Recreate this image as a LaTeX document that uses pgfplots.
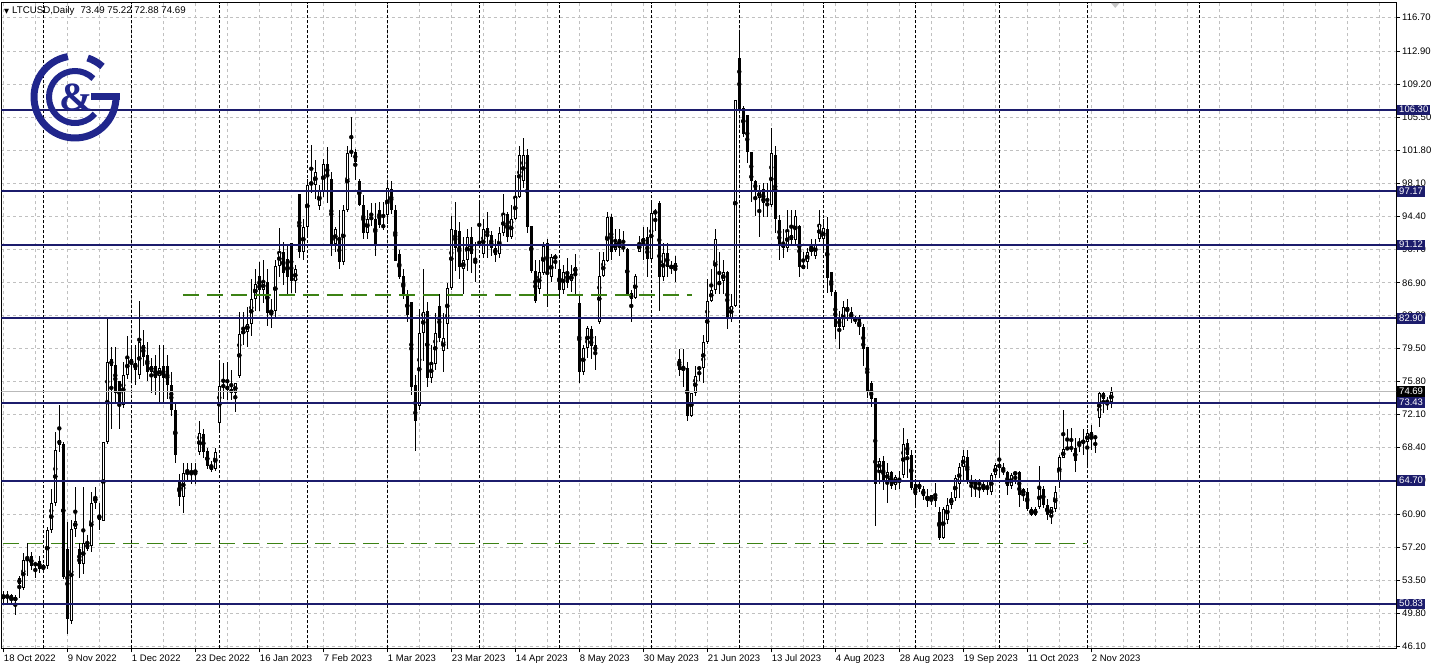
\documentclass[border=0pt]{standalone}
\usepackage{pgfplots}
\pgfplotsset{compat=1.18}
\usepackage{pgfplotstable}
\usepackage{fontspec}
\setmainfont{Liberation Sans}
\newfontfamily\symfont{DejaVu Sans}
\newfontfamily\logofont{Liberation Serif}
\definecolor{navyl}{RGB}{28,28,108}
\definecolor{gridg}{RGB}{192,192,192}
\definecolor{lvlgreen}{RGB}{60,130,20}
\definecolor{logoblue}{RGB}{32,38,140}
\definecolor{priceg}{RGB}{185,185,185}

\pgfplotstableread{
i O H L C
0 51.8 52.3 50.9 51.6
1 51.6 52.3 51.0 51.8
2 51.8 52.0 50.8 51.3
3 51.2 51.9 49.6 51.6
4 53.7 54.0 51.5 53.1
5 52.6 56.6 52.4 55.8
6 55.9 57.7 54.0 56.1
7 56.2 56.7 54.7 55.1
8 55.2 55.6 53.7 55.4
9 55.7 56.2 54.3 54.8
10 54.8 55.3 54.5 55.2
11 55.1 59.5 54.8 59.1
12 59.1 63.8 58.8 62.2
13 62.2 70.2 61.8 68.1
14 69.3 73.2 67.9 68.7
15 68.8 69.0 53.6 53.9
16 57.0 60.0 47.5 49.2
17 48.9 60.3 48.6 59.3
18 59.3 64.0 58.4 60.2
19 57.0 57.7 53.8 55.3
20 55.3 64.0 54.2 57.7
21 57.7 58.6 56.8 57.0
22 57.3 63.4 56.7 62.2
23 62.2 64.0 61.5 62.9
24 60.8 62.2 59.1 60.3
25 60.2 69.0 60.1 69.0
26 69.0 82.8 68.8 78.0
27 78.3 79.7 70.5 77.6
28 77.7 79.7 73.3 74.5
29 75.9 75.9 70.5 73.2
30 73.2 78.0 72.8 76.6
31 76.6 80.9 76.1 78.5
32 78.3 79.9 75.9 77.8
33 77.9 79.9 75.4 77.1
34 76.6 84.9 76.1 80.2
35 79.9 81.6 77.6 78.6
36 78.8 80.2 75.9 76.9
37 76.9 78.5 74.5 77.6
38 77.6 78.8 74.3 76.2
39 76.4 79.9 73.4 77.3
40 77.6 79.9 73.4 76.2
41 77.6 78.8 73.8 75.4
42 75.4 76.9 71.9 72.6
43 72.6 73.3 66.7 67.6
44 64.6 65.4 61.8 62.9
45 62.9 66.7 61.0 65.5
46 65.5 66.7 64.8 65.6
47 65.6 66.7 64.3 65.7
48 65.5 66.7 64.3 65.9
49 67.9 71.4 67.6 70.0
50 69.9 70.5 67.2 67.9
51 68.0 68.3 66.0 66.3
52 66.4 66.9 65.7 65.9
53 66.0 68.4 65.8 67.9
54 71.2 78.0 70.0 75.3
55 75.2 77.9 73.9 75.4
56 75.3 78.0 73.7 74.9
57 75.0 77.1 73.7 74.5
58 74.5 75.7 72.4 75.6
59 76.4 83.6 76.2 81.1
60 81.1 83.6 79.9 81.6
61 81.4 84.2 79.7 82.3
62 82.3 87.3 80.9 85.1
63 85.1 88.4 83.7 86.8
64 87.7 89.2 83.7 86.1
65 86.1 89.4 84.6 87.0
66 87.0 88.4 82.0 83.5
67 83.5 85.1 81.8 83.8
68 83.7 89.4 83.0 88.8
69 88.8 93.0 87.5 90.4
70 90.4 91.5 86.6 88.0
71 89.6 91.3 85.6 87.5
72 91.4 91.4 85.7 87.1
73 87.1 88.9 85.7 88.4
74 96.9 96.9 89.7 90.4
75 90.4 94.1 89.4 93.2
76 93.2 98.6 92.3 97.9
77 97.9 102.4 97.0 98.2
78 97.9 100.7 96.3 99.3
79 95.5 97.9 95.1 97.2
80 97.2 100.8 96.5 100.2
81 100.2 102.1 95.8 98.9
82 98.6 99.3 89.9 91.3
83 91.3 93.2 90.4 92.9
84 91.9 95.1 88.5 89.2
85 89.2 95.6 88.9 95.1
86 95.1 102.2 94.9 101.5
87 101.5 105.5 101.0 101.7
88 101.6 101.9 98.4 100.5
89 98.3 98.6 95.5 95.6
90 95.6 96.8 91.8 92.5
91 92.5 95.1 91.8 94.1
92 94.3 95.8 93.3 94.0
93 94.1 95.8 89.9 91.3
94 95.1 96.0 93.0 93.4
95 93.2 96.0 92.8 93.3
96 94.5 98.2 93.5 97.5
97 97.4 98.3 94.6 95.1
98 95.1 95.6 89.4 89.4
99 90.1 90.6 87.3 87.5
100 87.7 88.4 85.1 85.4
101 85.4 86.1 82.5 83.3
102 84.7 84.7 74.3 75.2
103 75.4 76.6 68.0 71.4
104 73.1 83.9 72.6 81.3
105 81.3 88.5 78.1 83.6
106 83.7 84.7 75.2 76.2
107 76.2 79.9 75.7 77.8
108 77.8 83.5 77.1 81.3
109 84.3 85.6 80.2 80.7
110 79.2 83.5 76.9 80.7
111 82.3 86.9 79.5 86.3
112 86.3 94.4 86.1 92.9
113 92.8 96.0 88.2 90.8
114 92.7 93.7 87.3 88.7
115 88.5 92.0 85.6 89.4
116 89.4 92.9 88.2 92.0
117 92.0 93.2 88.0 90.1
118 89.6 91.5 87.0 89.4
119 91.3 96.0 90.8 91.5
120 90.1 94.1 89.7 92.9
121 93.0 94.8 89.7 92.2
122 92.3 92.7 89.9 90.8
123 90.8 91.8 89.2 90.0
124 90.1 93.2 89.7 92.5
125 92.5 96.9 92.2 94.6
126 94.6 94.8 91.5 92.0
127 92.0 95.6 91.8 94.1
128 94.1 99.0 93.9 96.5
129 96.5 102.2 96.4 101.2
130 98.3 103.2 97.5 101.2
131 101.2 101.9 92.5 93.2
132 93.3 93.3 88.0 88.2
133 88.2 89.4 84.6 84.8
134 86.2 89.4 85.6 88.1
135 88.0 91.5 87.8 91.0
136 91.4 91.8 84.2 88.0
137 87.5 90.1 87.0 89.8
138 89.6 90.1 88.4 89.9
139 88.5 89.2 85.1 86.1
140 86.1 88.9 85.6 88.1
141 88.1 89.7 86.3 86.9
142 87.1 88.9 85.9 87.9
143 88.0 90.1 85.6 88.7
144 84.6 85.4 75.7 76.9
145 76.9 79.9 76.6 79.6
146 79.6 82.1 78.5 81.8
147 81.7 82.1 78.3 79.8
148 79.9 80.9 77.1 79.2
149 82.5 90.4 82.3 87.7
150 87.7 90.4 87.5 89.4
151 89.4 94.8 89.2 94.3
152 94.3 94.6 89.4 90.4
153 90.6 92.9 90.3 91.4
154 91.8 92.9 89.9 90.8
155 90.8 92.7 90.3 90.9
156 90.7 90.8 85.6 85.6
157 85.7 86.1 82.5 85.1
158 85.2 87.9 85.1 87.7
159 90.4 92.2 90.3 91.4
160 91.4 93.2 89.4 91.9
161 92.0 93.2 87.5 89.6
162 89.6 96.0 89.4 94.7
163 94.6 95.2 92.7 95.0
164 95.9 96.1 83.7 87.5
165 87.5 91.4 87.1 90.2
166 90.2 91.4 87.5 88.7
167 88.9 89.4 87.9 88.5
168 88.4 89.9 87.0 89.1
169 78.3 79.5 76.4 77.1
170 77.1 79.5 75.2 77.4
171 77.3 78.0 71.4 71.9
172 71.9 74.5 71.8 74.5
173 74.5 77.6 74.2 76.4
174 77.2 77.6 75.9 77.4
175 77.3 81.0 75.6 80.2
176 80.2 87.3 80.0 84.9
177 84.9 88.5 84.7 86.1
178 86.1 92.9 85.6 91.8
179 87.1 90.4 85.6 86.6
180 87.1 89.4 85.6 88.1
181 88.1 88.2 81.7 83.0
182 83.0 85.6 82.5 84.3
183 84.3 107.4 84.2 107.4
184 112.1 114.9 106.3 106.3
185 106.5 106.8 103.3 103.6
186 105.7 105.7 100.3 101.6
187 101.6 101.6 96.0 98.3
188 98.3 98.4 94.4 97.2
189 96.4 97.9 92.0 97.2
190 97.4 98.1 94.3 95.8
191 95.6 98.1 94.3 95.8
192 95.6 104.3 95.4 101.5
193 101.3 102.2 92.5 94.1
194 93.9 94.5 89.4 91.3
195 91.3 92.9 89.7 90.8
196 90.8 95.1 90.3 92.7
197 92.3 95.1 91.3 91.7
198 91.7 95.1 91.3 94.4
199 93.3 93.4 87.5 88.7
200 88.9 90.4 88.4 88.5
201 89.2 90.8 88.4 90.4
202 90.4 91.8 89.9 90.8
203 89.9 91.8 89.6 91.3
204 91.8 95.1 91.5 93.5
205 91.8 94.1 90.3 93.0
206 92.9 94.3 85.8 87.4
207 88.1 88.1 85.4 85.9
208 85.9 86.1 80.6 81.9
209 83.0 83.7 79.5 81.9
210 81.9 84.9 81.6 84.2
211 84.2 85.1 82.6 83.7
212 83.6 84.2 82.4 82.8
213 82.9 83.2 82.3 82.6
214 82.8 83.3 81.0 81.9
215 81.9 82.3 77.6 79.5
216 79.7 79.7 74.0 74.7
217 75.6 75.9 72.9 73.8
218 74.0 74.0 59.6 64.3
219 65.8 67.2 64.3 66.9
220 66.9 67.5 63.6 64.6
221 64.6 66.7 62.2 65.7
222 65.7 65.8 63.8 64.1
223 64.2 65.3 63.6 65.1
224 64.6 65.8 63.8 64.7
225 65.3 70.6 65.0 68.8
226 68.9 69.4 65.0 67.6
227 67.6 68.1 63.6 63.9
228 64.3 64.9 61.9 63.1
229 64.3 64.8 63.4 63.8
230 63.8 64.1 62.5 63.0
231 63.0 63.8 61.7 62.4
232 62.4 63.1 62.0 63.1
233 63.1 64.4 61.7 62.4
234 61.2 61.7 58.0 58.2
235 58.2 61.7 58.1 61.5
236 60.3 62.7 59.8 62.0
237 62.0 63.4 61.5 62.7
238 62.7 65.3 62.4 65.0
239 64.3 66.7 62.7 66.2
240 66.2 68.1 64.8 67.4
241 67.3 68.1 64.3 64.6
242 64.3 65.3 62.9 64.8
243 64.7 64.9 62.9 64.1
244 64.3 64.9 62.7 64.4
245 64.3 64.8 63.4 63.6
246 63.9 64.8 63.1 63.8
247 63.4 65.5 63.1 65.3
248 65.3 66.7 65.0 66.4
249 66.6 69.1 65.0 66.1
250 65.9 66.7 65.3 65.7
251 65.6 65.8 63.1 64.1
252 64.1 65.5 63.8 65.3
253 65.3 65.7 64.3 65.7
254 65.6 65.8 61.7 63.1
255 63.1 63.9 62.4 63.8
256 63.4 63.9 61.3 61.5
257 61.5 61.7 60.7 60.8
258 60.8 61.7 60.7 61.5
259 61.7 66.3 61.5 63.8
260 63.8 64.1 61.6 62.0
261 61.9 62.6 60.3 60.8
262 60.7 61.7 59.8 61.7
263 61.5 64.1 61.2 63.4
264 64.6 67.6 63.9 67.3
265 67.2 72.6 67.2 68.2
266 68.2 70.5 68.1 68.4
267 68.3 70.6 67.9 68.4
268 68.3 69.5 65.7 66.9
269 68.8 69.5 67.9 69.0
270 69.0 70.5 67.6 69.1
271 69.0 70.5 66.3 70.0
272 70.1 70.9 68.1 69.5
273 69.6 69.8 67.8 69.5
274 71.7 74.6 70.7 74.5
275 74.5 74.7 72.3 73.9
276 73.5 74.1 72.6 73.6
277 73.49 75.22 72.88 74.69
}\candles

\begin{document}
\begin{tikzpicture}[x=1pt,y=1pt]
\path[use as bounding box] (0pt,0pt) rectangle (1438pt,670pt);
\begin{axis}[
  at={(1.5pt,21.5pt)}, anchor=south west,
  scale only axis, width=1394.5pt, height=645.5pt,
  xmin=-0.45, xmax=348.2, ymin=45.84, ymax=118.31,
  clip mode=individual,
  axis line style={black, line width=1pt},
  tick align=outside,
  xtick pos=left, ytick pos=right,
  xticklabel pos=left, yticklabel pos=right,
  major tick length=4pt, minor tick length=0pt,
  tick style={black, line width=0.8pt},
  xtick={0,16,...,272},
  xticklabels={18 Oct 2022,9 Nov 2022,1 Dec 2022,23 Dec 2022,16 Jan 2023,7 Feb 2023,1 Mar 2023,23 Mar 2023,14 Apr 2023,8 May 2023,30 May 2023,21 Jun 2023,13 Jul 2023,4 Aug 2023,28 Aug 2023,19 Sep 2023,11 Oct 2023,2 Nov 2023},
  minor xtick={8,24,...,344,288,304,320,336},
  ytick={116.7,112.9,109.2,105.5,101.8,98.1,94.4,90.7,86.9,83.2,79.5,75.8,72.1,68.4,64.7,60.9,57.2,53.5,49.8,46.1},
  yticklabels={116.70,112.90,109.20,105.50,101.80,98.10,94.40,90.70,86.90,83.20,79.50,75.80,72.10,68.40,64.70,60.90,57.20,53.50,49.80,46.10},
  grid=both,
  major grid style={gridg, line width=0.8pt, dash pattern=on 3pt off 3pt},
  minor grid style={gridg, line width=0.8pt, dash pattern=on 3pt off 3pt},
  extra x ticks={10,32,54,76,96,119,139,162,184,205,228,249,271,299},
  extra x tick labels={},
  extra x tick style={grid=major, major grid style={black, line width=0.9pt, dash pattern=on 3pt off 2pt}, major tick length=0pt},
  ticklabel style={font=\fontsize{9.5}{11}\selectfont, text=black},
  xticklabel style={anchor=north west, inner xsep=0.5pt, inner ysep=2pt},
  yticklabel style={anchor=west, inner xsep=2pt},
]
% levels drawn below candles
\addplot[draw=lvlgreen, line width=1.5pt, dash pattern=on 16pt off 8pt, forget plot] coordinates {(0,57.62) (100,57.62) (200,57.62) (271,57.62)};
% wicks
\addplot[only marks, mark=none, forget plot,
  error bars/.cd, y dir=both, y explicit, error mark=none,
  error bar style={draw=black, solid, line width=1pt}]
  table[x=i, y expr={(\thisrow{H}+\thisrow{L})/2}, y error expr={(\thisrow{H}-\thisrow{L})/2}] {\candles};
% bodies (black)
\addplot[only marks, mark=none, forget plot,
  error bars/.cd, y dir=both, y explicit, error mark=none,
  error bar style={draw=black, solid, line width=3pt}]
  table[x=i, y expr={(\thisrow{O}+\thisrow{C})/2}, y error expr={max(abs(\thisrow{C}-\thisrow{O})/2,0.06)}] {\candles};
% bullish interiors (white)
\addplot[only marks, mark=none, forget plot,
  error bars/.cd, y dir=both, y explicit, error mark=none,
  error bar style={draw=white, solid, line width=1pt}]
  table[x=i, y expr={(\thisrow{C}>\thisrow{O}+0.25) ? ((\thisrow{O}+\thisrow{C})/2) : 0}, y error expr={max(abs(\thisrow{C}-\thisrow{O})/2-0.112,0.01)}] {\candles};
% levels
\addplot[priceg, line width=1pt] coordinates {(-1,74.69) (350,74.69)};
\addplot[draw=lvlgreen, line width=1.1pt, dash pattern=on 16pt off 8pt] coordinates {(44.9,85.53) (172.2,85.53)};
\addplot[navyl, line width=2pt] coordinates {(-1,106.30) (350,106.30)};
\addplot[navyl, line width=2pt] coordinates {(-1,97.17) (350,97.17)};
\addplot[navyl, line width=2pt] coordinates {(-1,91.12) (350,91.12)};
\addplot[navyl, line width=2pt] coordinates {(-1,82.90) (350,82.90)};
\addplot[navyl, line width=2pt] coordinates {(-1,73.43) (350,73.43)};
\addplot[navyl, line width=2pt] coordinates {(-1,64.70) (350,64.70)};
\addplot[navyl, line width=2pt] coordinates {(-1,50.83) (350,50.83)};
\coordinate (b1) at (axis cs:348.2,106.30);
\coordinate (b2) at (axis cs:348.2,97.17);
\coordinate (b3) at (axis cs:348.2,91.12);
\coordinate (b4) at (axis cs:348.2,82.90);
\coordinate (b5) at (axis cs:348.2,73.43);
\coordinate (b6) at (axis cs:348.2,64.70);
\coordinate (b7) at (axis cs:348.2,50.83);
\coordinate (bp) at (axis cs:348.2,74.69);
\end{axis}
\tikzset{lab/.style={anchor=west, fill=navyl, text=white, inner xsep=2pt, inner ysep=1pt, xshift=1pt,
  font=\fontsize{9.5}{11}\selectfont, text height=7pt, text depth=1.5pt}}
\node[lab] at (b1) {106.30};
\node[lab] at (b2) {97.17};
\node[lab] at (b3) {91.12};
\node[lab] at (b4) {82.90};
\node[lab] at (b5) {73.43};
\node[lab] at (b6) {64.70};
\node[lab] at (b7) {50.83};
\node[lab, fill=black] at (bp) {74.69};
% header
\node[anchor=west, inner sep=0pt, font=\fontsize{9.7}{11}\selectfont] at (4pt,659pt)
  {{\symfont\fontsize{6.5}{7}\selectfont ▼}\hspace{3pt}LTCUSD,Daily\hspace{6pt}73.49 75.22 72.88 74.69};
% chart shift marker
\fill[gray!45] (1111pt,667pt) -- (1119.5pt,667pt) -- (1115.25pt,662pt) -- cycle;
% logo
\begin{scope}[shift={(75pt,573pt)}, logoblue]
  \draw[line width=7pt] (100:41pt) arc[start angle=100, end angle=360, radius=41pt];
  \draw[line width=7pt] (48:41pt) arc[start angle=48, end angle=72, radius=41pt];
  \draw[line width=7pt] (16pt,0pt) -- (44.5pt,0pt);
  \draw[line width=6pt] (45:26pt) arc[start angle=45, end angle=320, radius=26pt];
  \node[font=\logofont\bfseries\fontsize{40}{40}\selectfont, inner sep=0pt] at (1pt,0pt) {\&};
\end{scope}
\end{tikzpicture}
\end{document}
